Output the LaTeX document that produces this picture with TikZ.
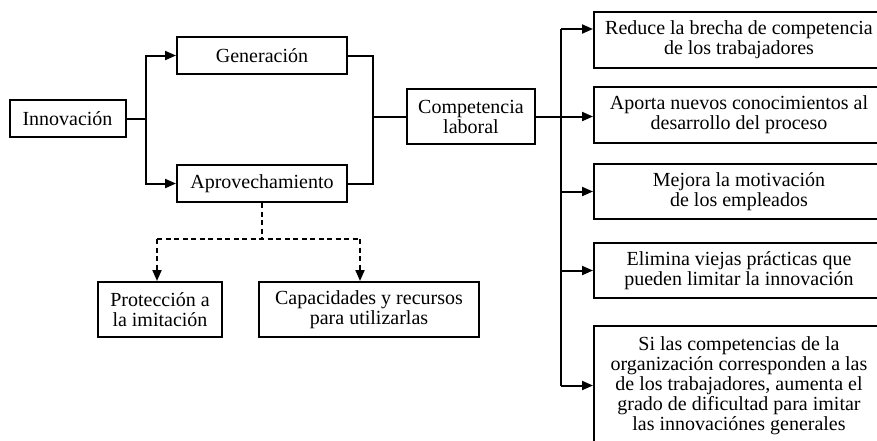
\documentclass[tikz,border=0pt]{standalone}
\usepackage{fontspec}
\setmainfont{Liberation Serif}
\usetikzlibrary{arrows.meta,calc}
\begin{document}
\begin{tikzpicture}[x=1pt,y=-1pt,
  box/.style={draw,line width=2pt,align=center,inner sep=0pt,
    font=\fontsize{20}{20}\selectfont},
  conn/.style={line width=2pt},
  arr/.style={conn,-{Triangle[length=11pt,width=9pt]}},
  dsh/.style={line width=2pt,dash pattern=on 5pt off 3.5pt},
  darr/.style={dsh,-{Triangle[length=11pt,width=9pt]}}]
\useasboundingbox (0,0) rectangle (877,440);
\node[box,minimum width=116pt,minimum height=37pt] (inn) at (67.5,118.5) {Innovación};
\node[box,minimum width=170pt,minimum height=37pt] (gen) at (262,55.5) {Generación};
\node[box,minimum width=170pt,minimum height=37pt] (apr) at (262,183.5) {Aprovechamiento};
\node[box,minimum width=128pt,minimum height=55pt] (comp) at (471,116.5) {Competencia\\laboral};
\node[box,minimum width=290pt,minimum height=56pt] (r1) at (739,40) {Reduce la brecha de competencia\\de los trabajadores};
\node[box,minimum width=290pt,minimum height=56pt] (r2) at (739,115) {Aporta nuevos conocimientos al\\desarrollo del proceso};
\node[box,minimum width=290pt,minimum height=55pt] (r3) at (739,191.5) {Mejora la motivación\\de los empleados};
\node[box,minimum width=290pt,minimum height=55pt] (r4) at (739,270.5) {Elimina viejas prácticas que\\pueden limitar la innovación};
\node[box,minimum width=290pt,minimum height=119pt] (r5) at (739,385.5) {Si las competencias de la\\organización corresponden a las\\de los trabajadores, aumenta el\\grado de dificultad para imitar\\las innovaciónes generales};
\node[box,minimum width=124pt,minimum height=55pt] (prot) at (160,309.5) {Protección a\\la imitación};
\node[box,minimum width=220pt,minimum height=55pt] (cap) at (369,309.5) {Capacidades y recursos\\para utilizarlas};
% left fork
\coordinate (jl) at (146,118.5);
\draw[conn] (inn.east) -- (jl);
\draw[arr] (jl) |- (gen.west);
\draw[arr] (jl) |- (apr.west);
% right merge
\coordinate (jr) at (373,116.5);
\draw[conn] (gen.east) -| (jr);
\draw[conn] (apr.east) -| (jr);
\draw[conn] (jr) -- (comp.west);
% bus to the right
\coordinate (bt) at (561,29);
\coordinate (bb) at (561,385.5);
\draw[conn] (comp.east) -- (comp.east -| bt);
\draw[conn] (bt) -- (bb);
\draw[arr] (bt) -- (bt -| r1.west);
\draw[arr] (comp.east -| bt) -- (comp.east -| r2.west);
\draw[arr] (bt |- r3.west) -- (r3.west);
\draw[arr] (bt |- r4.west) -- (r4.west);
\draw[arr] (bb) -- (r5.west);
% dashed
\coordinate (dm) at (262,239);
\coordinate (dl) at (157,239);
\coordinate (dr) at (360,239);
\draw[dsh] (apr.south) -- (dm);
\draw[dsh] (dl) -- (dr);
\draw[darr] (dl) -- (dl |- prot.north);
\draw[darr] (dr) -- (dr |- cap.north);
\end{tikzpicture}
\end{document}
